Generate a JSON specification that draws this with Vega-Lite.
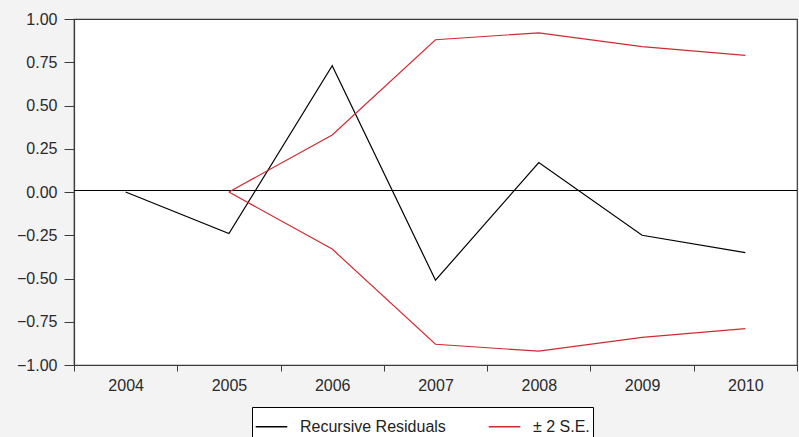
{
  "$schema": "https://vega.github.io/schema/vega-lite/v6.json",
  "width": 723,
  "height": 346,
  "autosize": {"type": "none"},
  "padding": {"left": 74, "top": 19, "right": 2, "bottom": 72},
  "background": "#f3f3f4",
  "config": {
    "view": {"stroke": "#3a3a3a", "strokeWidth": 1.2, "fill": "white"},
    "font": "Liberation Sans",
    "axis": {"domainColor": "#3a3a3a", "tickColor": "#3a3a3a", "labelColor": "#2a2a2a", "grid": false, "title": null}
  },
  "data": {
    "values": [
      {"year": "2004", "series": "Recursive Residuals", "line": "resid", "value": 0.0},
      {"year": "2005", "series": "Recursive Residuals", "line": "resid", "value": -0.24},
      {"year": "2006", "series": "Recursive Residuals", "line": "resid", "value": 0.73},
      {"year": "2007", "series": "Recursive Residuals", "line": "resid", "value": -0.51},
      {"year": "2008", "series": "Recursive Residuals", "line": "resid", "value": 0.17},
      {"year": "2009", "series": "Recursive Residuals", "line": "resid", "value": -0.25},
      {"year": "2010", "series": "Recursive Residuals", "line": "resid", "value": -0.35},
      {"year": "2005", "series": "± 2 S.E.", "line": "upper", "value": 0.0},
      {"year": "2006", "series": "± 2 S.E.", "line": "upper", "value": 0.33},
      {"year": "2007", "series": "± 2 S.E.", "line": "upper", "value": 0.88},
      {"year": "2008", "series": "± 2 S.E.", "line": "upper", "value": 0.92},
      {"year": "2009", "series": "± 2 S.E.", "line": "upper", "value": 0.84},
      {"year": "2010", "series": "± 2 S.E.", "line": "upper", "value": 0.79},
      {"year": "2005", "series": "± 2 S.E.", "line": "lower", "value": 0.0},
      {"year": "2006", "series": "± 2 S.E.", "line": "lower", "value": -0.33},
      {"year": "2007", "series": "± 2 S.E.", "line": "lower", "value": -0.88},
      {"year": "2008", "series": "± 2 S.E.", "line": "lower", "value": -0.92},
      {"year": "2009", "series": "± 2 S.E.", "line": "lower", "value": -0.84},
      {"year": "2010", "series": "± 2 S.E.", "line": "lower", "value": -0.79}
    ]
  },
  "layer": [
    {
      "mark": {"type": "rule", "color": "black", "strokeWidth": 1, "yOffset": -1.5},
      "encoding": {"y": {"datum": 0, "type": "quantitative", "scale": {"domain": [-1, 1]}}}
    },
    {
      "mark": {"type": "line", "strokeWidth": 1.2},
      "encoding": {
        "x": {
          "field": "year", "type": "ordinal", "bandPosition": 0.5,
          "scale": {"type": "band", "paddingInner": 0, "paddingOuter": 0},
          "axis": {"labelAngle": 0, "tickBand": "extent", "tickSize": 6, "labelPadding": 6, "domainWidth": 1.2, "labelFontSize": 16}
        },
        "y": {
          "field": "value", "type": "quantitative",
          "scale": {"domain": [-1, 1], "nice": false, "zero": false},
          "axis": {"values": [-1, -0.75, -0.5, -0.25, 0, 0.25, 0.5, 0.75, 1], "format": ".2f", "tickSize": 10, "labelPadding": 7, "domainWidth": 1.2, "labelFontSize": 16}
        },
        "color": {
          "field": "series", "type": "nominal",
          "scale": {"domain": ["Recursive Residuals", "± 2 S.E."], "range": ["black", "#d02a30"]},
          "legend": {
            "title": null, "orient": "none", "legendX": 178, "legendY": 388,
            "direction": "horizontal", "columns": 2, "symbolType": "stroke", "symbolSize": 1000, "symbolStrokeWidth": 1.3,
            "labelFontSize": 16, "labelColor": "#222", "fillColor": "white", "strokeColor": "black", "padding": 3, "columnPadding": 40, "labelOffset": 12
          }
        },
        "detail": {"field": "line"}
      }
    }
  ]
}
